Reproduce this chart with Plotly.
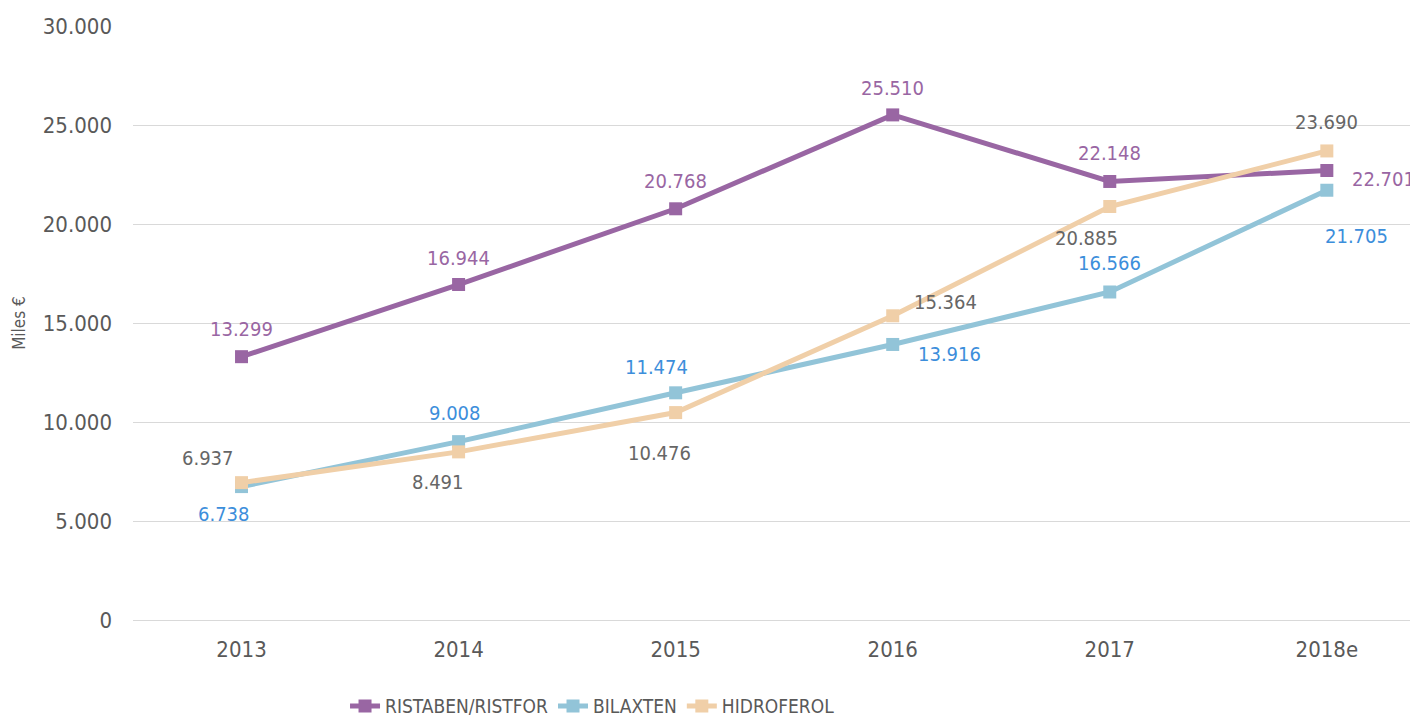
import plotly.graph_objects as go

years = ["2013", "2014", "2015", "2016", "2017", "2018e"]
ristaben = [13299, 16944, 20768, 25510, 22148, 22701]
bilaxten = [6738, 9008, 11474, 13916, 16566, 21705]
hidroferol = [6937, 8491, 10476, 15364, 20885, 23690]

FONT = "DejaVu Sans Condensed, DejaVu Sans, sans-serif"

# pixel offsets of each data label from its point (right, up)
label_shift = {
    "RISTABEN/RISTFOR": [(0, 28), (0, 27), (0, 28), (0, 27), (0, 28), (57, -8)],
    "BILAXTEN": [(-18, -27), (-4, 29), (-19, 26), (57, -10), (0, 29), (30, -46)],
    "HIDROFEROL": [(-34, 25), (-21, -30), (-16, -40), (53, 14), (-23, -32), (0, 29)],
}

series = [
    ("RISTABEN/RISTFOR", ristaben, "#9966A3", "#9966A3"),
    ("BILAXTEN", bilaxten, "#92C4D8", "#3C8EDB"),
    ("HIDROFEROL", hidroferol, "#F0CFA8", "#666666"),
]

fig = go.Figure()
annotations = []
for name, vals, col, tcol in series:
    fig.add_trace(go.Scatter(
        x=years, y=vals, name=name, mode="lines+markers",
        line=dict(color=col, width=5),
        marker=dict(symbol="square", size=13, color=col),
        cliponaxis=False,
    ))
    # category index as x so "2013" etc. are not read as numbers
    for i, (v, (dx, dy)) in enumerate(zip(vals, label_shift[name])):
        annotations.append(dict(
            x=i, y=v, text=f"{v:,}".replace(",", "."), showarrow=False,
            xshift=dx, yshift=dy, xanchor="center", yanchor="middle",
            font=dict(family=FONT, size=20, color=tcol),
        ))

# page body has an 8px margin, so the figure starts at (8, 8)
fig.update_layout(
    width=1418, height=720,
    margin=dict(l=125, r=8, t=18, b=108, autoexpand=False),
    paper_bgcolor="white", plot_bgcolor="white",
    separators=",.",
    font=dict(family=FONT, color="#595959", size=22),
    annotations=annotations,
    showlegend=True,
    legend=dict(orientation="h", x=0.165, xanchor="left", y=-0.145, yanchor="middle",
                font=dict(size=19, color="#595959"), traceorder="normal"),
    xaxis=dict(type="category", range=[-0.5, 5.42], showgrid=False, showline=True,
               linecolor="#D9D9D9", linewidth=1, ticks="", automargin=False,
               ticklabelstandoff=10, tickfont=dict(size=22)),
    yaxis=dict(range=[0, 30000], dtick=5000, tickformat=",.0f", showgrid=True,
               gridcolor="#D9D9D9", gridwidth=1, zeroline=False, showline=False,
               ticks="", ticklabelstandoff=20, automargin=False,
               tickfont=dict(size=22),
               title=dict(text="Miles €", font=dict(size=17, color="#595959"), standoff=12)),
)

fig.write_html("out.html")
